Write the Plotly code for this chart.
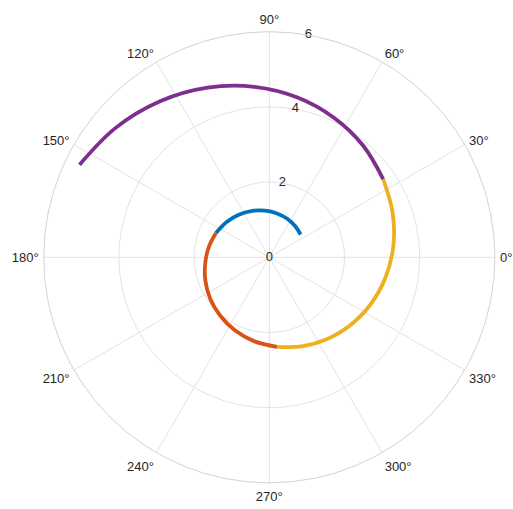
import plotly.graph_objects as go

# Spiral segments: angle (degrees) and radius
blue_theta = [36, 50, 65, 80, 95, 110, 125, 140, 155.5]
blue_r = [1.03, 1.075, 1.13, 1.185, 1.245, 1.315, 1.39, 1.47, 1.56]

red_theta = [155.5, 170, 185, 200, 215, 230, 245, 260, 275]
red_r = [1.56, 1.63, 1.71, 1.81, 1.92, 2.03, 2.15, 2.27, 2.39]

yellow_theta = [275, 290, 305, 320, 335, 350, 5, 20, 34.5]
yellow_r = [2.39, 2.52, 2.66, 2.81, 2.97, 3.135, 3.31, 3.49, 3.675]

purple_theta = [34.5, 50, 65, 80, 95, 110, 125, 140, 154]
purple_r = [3.675, 3.88, 4.09, 4.315, 4.55, 4.80, 5.065, 5.345, 5.615]

colors = ["#0072BD", "#D95319", "#EDB120", "#7E2F8E"]

angular_ticks = [0, 30, 60, 90, 120, 150, 180, 210, 240, 270, 300, 330]
radial_ticks = [0, 2, 4, 6]
radial_labels = ["0", "2", "4", "6"]
radial_label_angle = 80

FONT = "Liberation Sans, Arial, Helvetica, sans-serif"

fig = go.Figure()
for th, rr, c in [(blue_theta, blue_r, colors[0]), (red_theta, red_r, colors[1]),
                  (yellow_theta, yellow_r, colors[2]), (purple_theta, purple_r, colors[3])]:
    fig.add_trace(go.Scatterpolar(
        r=rr, theta=th, mode="lines",
        line=dict(color=c, width=3.8, shape="spline"),
        hoverinfo="skip", showlegend=False,
    ))

fig.add_trace(go.Scatterpolar(
    r=radial_ticks, theta=[radial_label_angle] * len(radial_ticks),
    mode="text", text=radial_labels,
    textfont=dict(family=FONT, size=13, color="#262626"),
    hoverinfo="skip", showlegend=False,
))

W, H = 513, 509
cx, cy, R = 269.3, 257.3, 225.6
fig.update_layout(
    width=W, height=H,
    margin=dict(l=0, r=0, t=0, b=0),
    paper_bgcolor="white", plot_bgcolor="white",
    font=dict(family=FONT, size=13, color="#262626"),
    polar=dict(
        domain=dict(x=[(cx - R) / W, (cx + R) / W],
                    y=[(H - cy - R) / H, (H - cy + R) / H]),
        bgcolor="white",
        angularaxis=dict(
            direction="counterclockwise", rotation=0,
            tickmode="array", tickvals=angular_ticks,
            ticktext=[f"{t}°" for t in angular_ticks],
            showline=True, linecolor="#d2d2d2", linewidth=1,
            gridcolor="#e3e3e3", gridwidth=1,
            ticks="outside", ticklen=2, tickcolor="rgba(0,0,0,0)",
            tickfont=dict(family=FONT, size=13, color="#262626"),
        ),
        radialaxis=dict(
            range=[0, 6], tickvals=radial_ticks, angle=radial_label_angle,
            showticklabels=False, showline=False, ticks="",
            gridcolor="#e3e3e3", gridwidth=1,
        ),
    ),
)

# remove the default page margin and scrollbars so the figure fills the window
fig.write_html(
    "out.html",
    config={"displayModeBar": False, "staticPlot": True},
    post_script="document.body.style.margin='0';document.body.style.overflow='hidden';"
                "document.documentElement.style.overflow='hidden';",
)
